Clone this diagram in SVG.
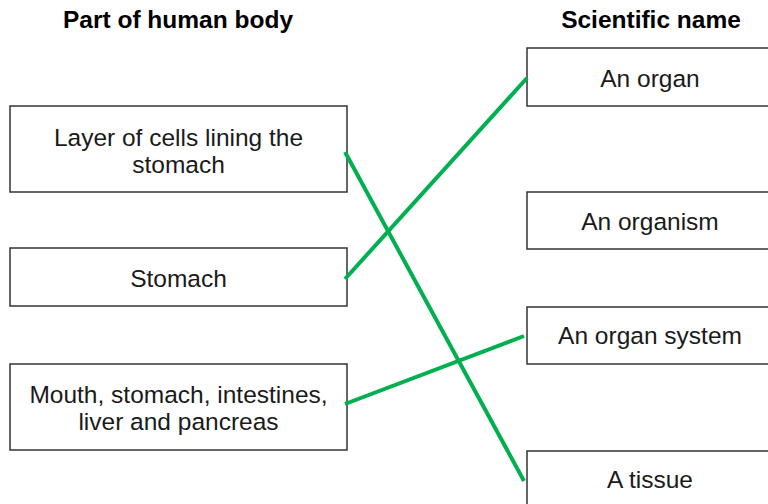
<svg xmlns="http://www.w3.org/2000/svg" width="768" height="504" viewBox="0 0 768 504">
<style>
.box{fill:#fff;stroke:#333;stroke-width:1.5}
.t{font-family:"Liberation Sans",Arial,sans-serif;font-size:24.5px;fill:#1a1a1a;text-anchor:middle}
.h{font-family:"Liberation Sans",Arial,sans-serif;font-size:24.5px;font-weight:bold;fill:#000;text-anchor:middle}
.c{stroke:#00b050;stroke-width:4;fill:none}
</style>
<rect width="768" height="504" fill="#fff"/>
<text class="h" x="178" y="28">Part of human body</text>
<text class="h" x="651" y="28">Scientific name</text>
<g id="left1"><rect class="box" x="10" y="106" width="337" height="86"/><text class="t" x="178.5" y="146">Layer of cells lining the</text><text class="t" x="178.5" y="173">stomach</text></g>
<g id="left2"><rect class="box" x="10" y="248" width="337" height="58"/><text class="t" x="178.5" y="287">Stomach</text></g>
<g id="left3"><rect class="box" x="10" y="364" width="337" height="86"/><text class="t" x="178.5" y="403">Mouth, stomach, intestines,</text><text class="t" x="178.5" y="430">liver and pancreas</text></g>
<g id="right1"><rect class="box" x="527" y="48" width="250" height="58"/><text class="t" x="650" y="87">An organ</text></g>
<g id="right2"><rect class="box" x="527" y="192" width="250" height="57"/><text class="t" x="650" y="230">An organism</text></g>
<g id="right3"><rect class="box" x="527" y="307" width="250" height="57"/><text class="t" x="650" y="344">An organ system</text></g>
<g id="right4"><rect class="box" x="527" y="451" width="250" height="60"/><text class="t" x="650" y="488">A tissue</text></g>
<g id="connectors">
<line class="c" x1="345" y1="152" x2="524" y2="481"/>
<line class="c" x1="345" y1="279" x2="527" y2="78"/>
<line class="c" x1="345" y1="404" x2="524" y2="336"/>
</g>
</svg>
